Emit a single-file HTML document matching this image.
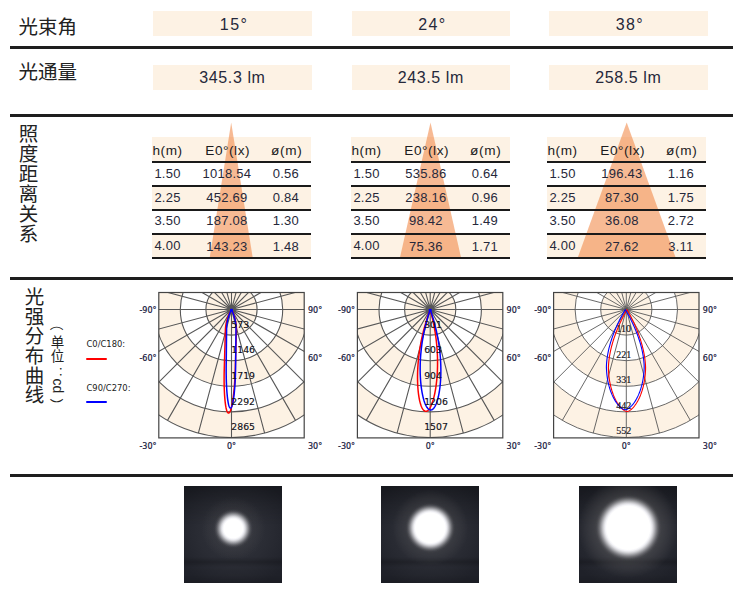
<!DOCTYPE html>
<html lang="zh-CN"><head><meta charset="utf-8"><title>光束角 光通量 照度距离关系 光强分布曲线</title>
<style>
html,body{margin:0;padding:0;background:#fff}
body{width:750px;height:606px;position:relative;overflow:hidden;font-family:"Liberation Sans","Noto Sans CJK SC",sans-serif;color:#26283a}
.ln{position:absolute;left:10px;width:722.5px;height:3px;background:#1e1e1e}
.ttl{position:absolute;left:18.5px;font-size:19.5px;line-height:22px;color:#222;white-space:nowrap;font-family:"Liberation Sans","Noto Sans CJK SC",sans-serif}
.box{position:absolute;width:158.5px;height:24.5px;background:#fdf2e4;text-align:center;font-size:16px;line-height:24.5px;letter-spacing:0.6px;color:#26283a}
.vt{position:absolute;writing-mode:vertical-rl;text-orientation:mixed;font-family:"Liberation Sans","Noto Sans CJK SC",sans-serif;color:#222;white-space:nowrap}
.unit{position:absolute;left:49px;top:0;width:17px;height:0;font-family:"Liberation Sans","Noto Sans CJK SC",sans-serif;font-size:13.5px;color:#222}
.unit span{position:absolute;left:0;width:17px;height:16px;line-height:16px;text-align:center;display:block}
.tbl{position:absolute;top:0;width:158.8px;height:262px}
.tbl .bg{position:absolute;left:0;width:100%;background:#fdf2e4}
.tbl .cone{position:absolute;left:0;top:0}
.tbl .hl{position:absolute;left:0;width:100%;height:2px;background:#1a1a1a}
.tbl .row{position:absolute;left:0;width:100%;height:16px;font-size:13px;line-height:16px;letter-spacing:0.25px;color:#26283a}
.tbl .row span{position:absolute;top:0;white-space:nowrap}
.tbl .row .c1{left:2.5px}
.tbl .row .c2{left:45px;width:60px;text-align:center}
.tbl .row .c3{left:112px;width:44px;text-align:center}
.tbl .hd{font-size:13.6px;letter-spacing:0.55px;color:#1c1c1e}
.tbl .hd .c2{left:45.8px}
.tbl .hd .c3{left:112.8px;letter-spacing:0.7px}
.tbl .hd .c1{letter-spacing:0.6px}
.tbl .hd .c1{left:0.5px}
.polar{position:absolute;overflow:visible}
.lg{position:absolute;left:86.5px;font-family:"DejaVu Sans","Liberation Sans",sans-serif;font-size:8.4px;line-height:10px;color:#1a1a1a;white-space:nowrap}
.lgl{position:absolute;left:86.2px;width:20.4px;height:2.2px;border-radius:1.1px}
.photo{position:absolute;top:486px;width:98px;height:97.3px}
</style></head><body>
<div class="ln" style="top:46px"></div>
<div class="ln" style="top:113.5px"></div>
<div class="ln" style="top:277px"></div>
<div class="ln" style="top:474px"></div>
<div class="ttl" style="top:15.5px">光束角</div>
<div class="ttl" style="top:61px">光通量</div>
<div class="box" style="left:153.2px;top:11.1px"><span style="position:relative;top:1.7px;letter-spacing:1.4px;left:1.6px">15°</span></div>
<div class="box" style="left:153.2px;top:65px"><span style="position:relative;top:1.3px">345.3 lm</span></div>
<div class="box" style="left:351.5px;top:11.1px"><span style="position:relative;top:1.7px;letter-spacing:1.4px;left:1.6px">24°</span></div>
<div class="box" style="left:351.5px;top:65px"><span style="position:relative;top:1.3px">243.5 lm</span></div>
<div class="box" style="left:549px;top:11.1px"><span style="position:relative;top:1.7px;letter-spacing:1.4px;left:1.6px">38°</span></div>
<div class="box" style="left:549px;top:65px"><span style="position:relative;top:1.3px">258.5 lm</span></div>
<div class="vt" style="left:17px;top:124px;font-size:19.5px;line-height:20px;letter-spacing:0.45px">照度距离关系</div>
<div class="vt" style="left:23px;top:287px;font-size:19.5px;line-height:20px;letter-spacing:0.1px">光强分布曲线</div>
<div class="unit"><span style="top:316.4px;left:-2px;transform:rotate(90deg)">（</span><span style="top:334.8px">单</span><span style="top:349.3px">位</span><span style="top:364.4px;left:3.2px;font-size:11px;font-family:'Liberation Sans','Noto Sans CJK JP',sans-serif">：</span><span style="top:377.5px;font-size:14px;transform:rotate(90deg);font-family:'Liberation Sans',sans-serif">cd</span><span style="top:397.2px;left:-2px;transform:rotate(90deg)">）</span></div>
<div class="tbl" style="left:151.9px">
<div class="bg" style="top:137.3px;height:25px"></div>
<div class="bg" style="top:186px;height:24px"></div>
<div class="bg" style="top:233.6px;height:24.8px"></div>
<svg class="cone" width="158.8" height="260" viewBox="0 0 158.8 260"><polygon points="79.2,122.5 57.6,258.3 100.8,258.3" fill="rgba(240,130,60,0.55)"/></svg>
<div class="hl" style="top:161.3px"></div>
<div class="hl" style="top:185.0px"></div>
<div class="hl" style="top:209.0px"></div>
<div class="hl" style="top:232.6px"></div>
<div class="hl" style="top:257.4px"></div>
<div class="row hd" style="top:143px"><span class="c1">h(m)</span><span class="c2">E0°(lx)</span><span class="c3">ø(m)</span></div>
<div class="row" style="top:166.2px"><span class="c1">1.50</span><span class="c2">1018.54</span><span class="c3">0.56</span></div>
<div class="row" style="top:190.3px"><span class="c1">2.25</span><span class="c2">452.69</span><span class="c3">0.84</span></div>
<div class="row" style="top:213.2px"><span class="c1">3.50</span><span class="c2">187.08</span><span class="c3">1.30</span></div>
<div class="row" style="top:238.6px"><span class="c1" style="top:-1px">4.00</span><span class="c2">143.23</span><span class="c3">1.48</span></div>
</div>
<div class="tbl" style="left:350.9px">
<div class="bg" style="top:137.3px;height:25px"></div>
<div class="bg" style="top:186px;height:24px"></div>
<div class="bg" style="top:233.6px;height:24.8px"></div>
<svg class="cone" width="158.8" height="260" viewBox="0 0 158.8 260"><polygon points="79.5,122.5 48.8,258.3 110.2,258.3" fill="rgba(240,130,60,0.55)"/></svg>
<div class="hl" style="top:161.3px"></div>
<div class="hl" style="top:185.0px"></div>
<div class="hl" style="top:209.0px"></div>
<div class="hl" style="top:232.6px"></div>
<div class="hl" style="top:257.4px"></div>
<div class="row hd" style="top:143px"><span class="c1">h(m)</span><span class="c2">E0°(lx)</span><span class="c3">ø(m)</span></div>
<div class="row" style="top:166.2px"><span class="c1">1.50</span><span class="c2">535.86</span><span class="c3">0.64</span></div>
<div class="row" style="top:190.3px"><span class="c1">2.25</span><span class="c2">238.16</span><span class="c3">0.96</span></div>
<div class="row" style="top:213.2px"><span class="c1">3.50</span><span class="c2">98.42</span><span class="c3">1.49</span></div>
<div class="row" style="top:238.6px"><span class="c1" style="top:-1px">4.00</span><span class="c2">75.36</span><span class="c3">1.71</span></div>
</div>
<div class="tbl" style="left:546.9px">
<div class="bg" style="top:137.3px;height:25px"></div>
<div class="bg" style="top:186px;height:24px"></div>
<div class="bg" style="top:233.6px;height:24.8px"></div>
<svg class="cone" width="158.8" height="260" viewBox="0 0 158.8 260"><polygon points="79.7,122.5 30.5,258.3 128.9,258.3" fill="rgba(240,130,60,0.55)"/></svg>
<div class="hl" style="top:161.3px"></div>
<div class="hl" style="top:185.0px"></div>
<div class="hl" style="top:209.0px"></div>
<div class="hl" style="top:232.6px"></div>
<div class="hl" style="top:257.4px"></div>
<div class="row hd" style="top:143px"><span class="c1">h(m)</span><span class="c2">E0°(lx)</span><span class="c3">ø(m)</span></div>
<div class="row" style="top:166.2px"><span class="c1">1.50</span><span class="c2">196.43</span><span class="c3">1.16</span></div>
<div class="row" style="top:190.3px"><span class="c1">2.25</span><span class="c2">87.30</span><span class="c3">1.75</span></div>
<div class="row" style="top:213.2px"><span class="c1">3.50</span><span class="c2">36.08</span><span class="c3">2.72</span></div>
<div class="row" style="top:238.6px"><span class="c1" style="top:-1px">4.00</span><span class="c2">27.62</span><span class="c3">3.11</span></div>
</div>
<div class="lg" style="top:339.3px">C0/C180:</div><div class="lgl" style="top:358px;background:#f00"></div>
<div class="lg" style="top:382.6px">C90/C270:</div><div class="lgl" style="top:401.3px;background:#00f"></div>
<svg class="polar" style="left:0;top:0" width="750" height="606" viewBox="0 0 750 606">
<defs><clipPath id="cp1"><rect x="158.8" y="292.5" width="145.4" height="145.4"/></clipPath></defs>
<g clip-path="url(#cp1)">
<rect x="158.8" y="292.5" width="145.4" height="145.4" fill="#fff"/>
<circle cx="231.5" cy="309.5" r="128.00" fill="#fdf2e4" stroke="#585858" stroke-width="1.1"/>
<circle cx="231.5" cy="309.5" r="102.40" fill="#fff" stroke="#585858" stroke-width="1.1"/>
<circle cx="231.5" cy="309.5" r="76.80" fill="#fdf2e4" stroke="#585858" stroke-width="1.1"/>
<circle cx="231.5" cy="309.5" r="51.20" fill="#fff" stroke="#585858" stroke-width="1.1"/>
<circle cx="231.5" cy="309.5" r="25.60" fill="#fdf2e4" stroke="#585858" stroke-width="1.1"/>
<path d="M231.5 309.5L231.50 437.50M231.5 309.5L264.63 433.14M231.5 309.5L295.50 420.35M231.5 309.5L322.01 400.01M231.5 309.5L342.35 373.50M231.5 309.5L355.14 342.63M231.5 309.5L359.50 309.50M231.5 309.5L355.14 276.37M231.5 309.5L342.35 245.50M231.5 309.5L322.01 218.99M231.5 309.5L295.50 198.65M231.5 309.5L264.63 185.86M231.5 309.5L231.50 181.50M231.5 309.5L198.37 185.86M231.5 309.5L167.50 198.65M231.5 309.5L140.99 218.99M231.5 309.5L120.65 245.50M231.5 309.5L107.86 276.37M231.5 309.5L103.50 309.50M231.5 309.5L107.86 342.63M231.5 309.5L120.65 373.50M231.5 309.5L140.99 400.01M231.5 309.5L167.50 420.35M231.5 309.5L198.37 433.14" stroke="#585858" stroke-width="1.1" fill="none"/>
<path d="M231.50 309.50L231.48 309.53L231.43 309.62L231.34 309.78L231.22 310.00L231.07 310.27L230.88 310.61L230.67 311.02L230.43 311.48L230.16 312.00L229.88 312.58L229.57 313.22L229.25 313.92L228.92 314.67L228.58 315.48L228.23 316.35L227.89 317.27L227.55 318.25L227.22 319.27L226.90 320.35L226.60 321.48L226.32 322.66L226.07 323.89L225.85 325.16L225.67 326.48L225.53 327.84L225.43 329.24L225.38 330.68L225.34 332.16L225.30 333.68L225.25 335.23L225.21 336.81L225.16 338.42L225.11 340.06L225.06 341.72L225.01 343.41L224.97 345.12L224.92 346.85L224.86 348.59L224.81 350.35L224.76 352.13L224.71 353.91L224.66 355.71L224.61 357.51L224.55 359.31L224.50 361.12L224.45 362.93L224.40 364.73L224.34 366.53L224.29 368.33L224.24 370.11L224.20 371.88L224.16 373.65L224.14 375.39L224.13 377.12L224.12 378.83L224.12 380.52L224.13 382.19L224.15 383.83L224.18 385.44L224.22 387.02L224.27 388.57L224.32 390.09L224.39 391.58L224.46 393.02L224.54 394.43L224.62 395.80L224.72 397.12L224.82 398.41L224.93 399.64L225.04 400.83L225.17 401.97L225.30 403.07L225.43 404.11L225.57 405.10L225.72 406.03L225.88 406.91L226.03 407.74L226.20 408.51L226.37 409.22L226.54 409.87L226.72 410.47L226.91 411.00L227.09 411.48L227.29 411.89L227.48 412.24L227.68 412.53L227.88 412.75L228.08 412.92L228.29 413.02L228.50 413.06L228.50 413.06L228.71 413.03L228.92 412.94L229.13 412.79L229.35 412.58L229.56 412.30L229.78 411.96L229.99 411.56L230.21 411.10L230.42 410.58L230.63 409.99L230.85 409.35L231.06 408.65L231.27 407.89L231.47 407.08L231.68 406.21L231.88 405.28L232.08 404.30L232.28 403.27L232.47 402.19L232.66 401.05L232.84 399.87L233.02 398.64L233.20 397.37L233.37 396.05L233.53 394.69L233.69 393.29L233.85 391.85L234.00 390.37L234.14 388.86L234.28 387.31L234.41 385.73L234.53 384.13L234.64 382.49L234.75 380.83L234.85 379.14L234.95 377.44L235.03 375.71L235.11 373.96L235.18 372.20L235.24 370.43L235.29 368.64L235.34 366.85L235.39 365.05L235.44 363.24L235.50 361.44L235.55 359.63L235.60 357.83L235.65 356.03L235.71 354.23L235.76 352.45L235.81 350.67L235.86 348.91L235.91 347.17L235.96 345.44L236.01 343.73L236.06 342.04L236.11 340.38L236.15 338.74L236.20 337.13L236.25 335.55L236.29 334.00L236.34 332.48L236.38 331.00L236.41 329.56L236.40 328.15L236.34 326.79L236.23 325.46L236.09 324.18L235.91 322.94L235.70 321.75L235.47 320.60L235.21 319.50L234.94 318.46L234.66 317.47L234.36 316.53L234.07 315.64L233.78 314.81L233.49 314.04L233.21 313.32L232.94 312.67L232.69 312.07L232.46 311.54L232.24 311.06L232.05 310.65L231.89 310.30L231.75 310.01L231.64 309.79L231.56 309.63L231.52 309.53L231.50 309.50Z" stroke="#ff0000" stroke-width="1.5" fill="none" stroke-linejoin="round"/>
<path d="M231.50 309.50L231.49 309.53L231.44 309.62L231.37 309.77L231.27 309.98L231.14 310.25L230.99 310.57L230.81 310.96L230.61 311.40L230.39 311.90L230.16 312.46L229.91 313.07L229.64 313.74L229.37 314.47L229.09 315.25L228.81 316.08L228.53 316.96L228.25 317.89L227.98 318.88L227.73 319.91L227.49 320.99L227.27 322.12L227.07 323.29L226.91 324.51L226.77 325.76L226.67 327.06L226.61 328.40L226.59 329.77L226.57 331.18L226.56 332.62L226.54 334.10L226.53 335.60L226.51 337.14L226.49 338.70L226.48 340.28L226.46 341.89L226.44 343.51L226.43 345.16L226.41 346.82L226.39 348.50L226.37 350.19L226.36 351.89L226.34 353.60L226.32 355.31L226.30 357.03L226.28 358.75L226.27 360.47L226.25 362.19L226.23 363.90L226.21 365.61L226.19 367.31L226.18 369.00L226.18 370.67L226.19 372.34L226.20 373.98L226.22 375.61L226.25 377.22L226.28 378.80L226.32 380.36L226.37 381.90L226.43 383.40L226.49 384.88L226.56 386.32L226.64 387.73L226.72 389.11L226.81 390.44L226.90 391.74L227.00 393.00L227.11 394.22L227.22 395.40L227.33 396.53L227.46 397.61L227.58 398.65L227.71 399.64L227.85 400.58L227.99 401.46L228.13 402.30L228.28 403.08L228.44 403.81L228.59 404.48L228.75 405.10L228.91 405.67L229.08 406.17L229.24 406.62L229.41 407.01L229.59 407.34L229.76 407.61L229.93 407.82L230.11 407.97L230.29 408.06L230.47 408.09L230.47 408.09L230.65 408.07L230.83 407.98L231.01 407.83L231.19 407.62L231.37 407.35L231.54 407.03L231.72 406.64L231.90 406.20L232.07 405.70L232.25 405.14L232.42 404.52L232.59 403.85L232.76 403.13L232.92 402.35L233.08 401.52L233.24 400.63L233.40 399.70L233.55 398.71L233.70 397.68L233.84 396.60L233.98 395.47L234.12 394.30L234.25 393.08L234.38 391.82L234.50 390.53L234.61 389.19L234.72 387.82L234.83 386.41L234.93 384.97L235.02 383.49L235.11 381.99L235.19 380.45L235.27 378.90L235.33 377.31L235.40 375.71L235.45 374.08L235.50 372.43L235.54 370.77L235.57 369.10L235.59 367.41L235.61 365.71L235.63 364.00L235.65 362.29L235.67 360.57L235.68 358.85L235.70 357.13L235.72 355.41L235.74 353.69L235.76 351.99L235.77 350.29L235.79 348.60L235.81 346.92L235.83 345.26L235.84 343.61L235.86 341.99L235.88 340.38L235.89 338.80L235.91 337.24L235.93 335.70L235.94 334.20L235.96 332.72L235.97 331.28L235.99 329.87L235.99 328.50L235.96 327.16L235.89 325.86L235.78 324.60L235.64 323.38L235.47 322.21L235.27 321.07L235.05 319.99L234.82 318.95L234.57 317.96L234.31 317.02L234.05 316.13L233.79 315.29L233.53 314.51L233.27 313.78L233.02 313.11L232.78 312.49L232.55 311.92L232.35 311.42L232.16 310.97L231.99 310.58L231.84 310.25L231.72 309.98L231.63 309.77L231.56 309.62L231.51 309.53L231.50 309.50Z" stroke="#0000ff" stroke-width="1.5" fill="none" stroke-linejoin="round"/>
<rect x="230.0" y="308.9" width="3" height="2.6" fill="#0000ff"/>
</g>
<rect x="158.8" y="292.5" width="145.4" height="145.4" fill="none" stroke="#444" stroke-width="1.2"/>
<text x="231.3" y="327.7" text-anchor="start" font-family="DejaVu Sans, Liberation Sans, sans-serif" font-size="9.3" fill="#101018" stroke="#101018" stroke-width="0.15">573</text>
<text x="231.3" y="353.3" text-anchor="start" font-family="DejaVu Sans, Liberation Sans, sans-serif" font-size="9.3" fill="#101018" stroke="#101018" stroke-width="0.15">1146</text>
<text x="231.3" y="378.9" text-anchor="start" font-family="DejaVu Sans, Liberation Sans, sans-serif" font-size="9.3" fill="#101018" stroke="#101018" stroke-width="0.15">1719</text>
<text x="231.3" y="404.5" text-anchor="start" font-family="DejaVu Sans, Liberation Sans, sans-serif" font-size="9.3" fill="#101018" stroke="#101018" stroke-width="0.15">2292</text>
<text x="231.3" y="430.1" text-anchor="start" font-family="DejaVu Sans, Liberation Sans, sans-serif" font-size="9.3" fill="#101018" stroke="#101018" stroke-width="0.15">2865</text>
<text x="156.5" y="312.5" text-anchor="end" font-family="DejaVu Sans, Liberation Sans, sans-serif" font-size="8" fill="#14143a" stroke="#14143a" stroke-width="0.2">-90°</text>
<text x="156.5" y="360.5" text-anchor="end" font-family="DejaVu Sans, Liberation Sans, sans-serif" font-size="8" fill="#14143a" stroke="#14143a" stroke-width="0.2">-60°</text>
<text x="156.5" y="448.7" text-anchor="end" font-family="DejaVu Sans, Liberation Sans, sans-serif" font-size="8" fill="#14143a" stroke="#14143a" stroke-width="0.2">-30°</text>
<text x="308.00000000000006" y="312.5" text-anchor="start" font-family="DejaVu Sans, Liberation Sans, sans-serif" font-size="8" fill="#14143a" stroke="#14143a" stroke-width="0.2">90°</text>
<text x="308.00000000000006" y="360.5" text-anchor="start" font-family="DejaVu Sans, Liberation Sans, sans-serif" font-size="8" fill="#14143a" stroke="#14143a" stroke-width="0.2">60°</text>
<text x="308.00000000000006" y="448.7" text-anchor="start" font-family="DejaVu Sans, Liberation Sans, sans-serif" font-size="8" fill="#14143a" stroke="#14143a" stroke-width="0.2">30°</text>
<text x="231.5" y="448.7" text-anchor="middle" font-family="DejaVu Sans, Liberation Sans, sans-serif" font-size="8" fill="#14143a" stroke="#14143a" stroke-width="0.2">0°</text>
</svg>
<svg class="polar" style="left:0;top:0" width="750" height="606" viewBox="0 0 750 606">
<defs><clipPath id="cp2"><rect x="357.4" y="292.5" width="145.4" height="145.4"/></clipPath></defs>
<g clip-path="url(#cp2)">
<rect x="357.4" y="292.5" width="145.4" height="145.4" fill="#fff"/>
<circle cx="430.2" cy="309.5" r="128.00" fill="#fdf2e4" stroke="#585858" stroke-width="1.1"/>
<circle cx="430.2" cy="309.5" r="102.40" fill="#fff" stroke="#585858" stroke-width="1.1"/>
<circle cx="430.2" cy="309.5" r="76.80" fill="#fdf2e4" stroke="#585858" stroke-width="1.1"/>
<circle cx="430.2" cy="309.5" r="51.20" fill="#fff" stroke="#585858" stroke-width="1.1"/>
<circle cx="430.2" cy="309.5" r="25.60" fill="#fdf2e4" stroke="#585858" stroke-width="1.1"/>
<path d="M430.2 309.5L430.20 437.50M430.2 309.5L463.33 433.14M430.2 309.5L494.20 420.35M430.2 309.5L520.71 400.01M430.2 309.5L541.05 373.50M430.2 309.5L553.84 342.63M430.2 309.5L558.20 309.50M430.2 309.5L553.84 276.37M430.2 309.5L541.05 245.50M430.2 309.5L520.71 218.99M430.2 309.5L494.20 198.65M430.2 309.5L463.33 185.86M430.2 309.5L430.20 181.50M430.2 309.5L397.07 185.86M430.2 309.5L366.20 198.65M430.2 309.5L339.69 218.99M430.2 309.5L319.35 245.50M430.2 309.5L306.56 276.37M430.2 309.5L302.20 309.50M430.2 309.5L306.56 342.63M430.2 309.5L319.35 373.50M430.2 309.5L339.69 400.01M430.2 309.5L366.20 420.35M430.2 309.5L397.07 433.14" stroke="#585858" stroke-width="1.1" fill="none"/>
<path d="M430.20 309.50L430.19 309.53L430.15 309.62L430.10 309.77L430.02 309.99L429.92 310.26L429.80 310.60L429.65 310.99L429.49 311.44L429.30 311.96L429.10 312.53L428.88 313.16L428.64 313.84L428.39 314.58L428.11 315.38L427.83 316.23L427.53 317.13L427.22 318.09L426.89 319.10L426.56 320.15L426.22 321.26L425.87 322.41L425.51 323.61L425.15 324.85L424.79 326.14L424.42 327.46L424.05 328.83L423.68 330.24L423.32 331.68L422.96 333.16L422.60 334.67L422.24 336.21L421.90 337.78L421.56 339.38L421.23 341.00L420.90 342.65L420.59 344.32L420.30 346.01L420.01 347.72L419.74 349.44L419.48 351.17L419.23 352.92L419.00 354.68L418.79 356.44L418.59 358.21L418.41 359.98L418.25 361.76L418.10 363.53L417.97 365.30L417.85 367.06L417.76 368.81L417.68 370.55L417.61 372.29L417.57 374.00L417.54 375.71L417.53 377.39L417.54 379.05L417.57 380.69L417.61 382.31L417.67 383.89L417.74 385.45L417.84 386.98L417.94 388.48L418.06 389.94L418.20 391.37L418.35 392.76L418.52 394.11L418.70 395.42L418.89 396.69L419.10 397.91L419.32 399.09L419.55 400.22L419.80 401.30L420.06 402.34L420.32 403.32L420.60 404.25L420.89 405.12L421.19 405.94L421.50 406.71L421.82 407.42L422.14 408.07L422.47 408.66L422.82 409.20L423.16 409.68L423.52 410.09L423.88 410.45L424.25 410.74L424.62 410.97L424.99 411.15L425.37 411.26L425.76 411.30L425.76 411.30L426.14 411.29L426.53 411.21L426.92 411.07L427.31 410.87L427.70 410.61L428.09 410.29L428.48 409.91L428.87 409.46L429.25 408.96L429.64 408.40L430.02 407.78L430.40 407.10L430.77 406.36L431.14 405.57L431.50 404.72L431.86 403.82L432.22 402.87L432.56 401.86L432.90 400.80L433.23 399.70L433.55 398.54L433.86 397.34L434.17 396.10L434.46 394.81L434.74 393.48L435.02 392.11L435.28 390.70L435.53 389.25L435.76 387.77L435.99 386.25L436.20 384.70L436.40 383.13L436.58 381.52L436.75 379.89L436.90 378.23L437.04 376.56L437.16 374.86L437.27 373.14L437.36 371.41L437.43 369.67L437.48 367.91L437.52 366.15L437.55 364.38L437.55 362.60L437.54 360.82L437.52 359.04L437.48 357.26L437.42 355.48L437.34 353.71L437.25 351.95L437.14 350.20L437.02 348.46L436.88 346.73L436.73 345.02L436.57 343.33L436.39 341.66L436.21 340.02L436.01 338.40L435.80 336.80L435.58 335.23L435.36 333.70L435.12 332.20L434.88 330.73L434.64 329.29L434.39 327.90L434.14 326.55L433.89 325.23L433.64 323.96L433.39 322.74L433.14 321.56L432.90 320.43L432.66 319.35L432.42 318.32L432.20 317.34L431.98 316.41L431.77 315.54L431.56 314.72L431.37 313.96L431.20 313.26L431.03 312.61L430.88 312.03L430.74 311.50L430.62 311.03L430.51 310.63L430.41 310.28L430.34 310.00L430.28 309.78L430.23 309.63L430.21 309.53L430.20 309.50Z" stroke="#ff0000" stroke-width="1.5" fill="none" stroke-linejoin="round"/>
<path d="M430.20 309.50L430.19 309.53L430.16 309.62L430.11 309.78L430.04 309.99L429.94 310.26L429.83 310.60L429.70 311.00L429.55 311.45L429.39 311.96L429.20 312.54L429.00 313.17L428.79 313.85L428.55 314.59L428.31 315.39L428.05 316.24L427.78 317.15L427.51 318.11L427.22 319.11L426.92 320.17L426.62 321.28L426.31 322.43L426.00 323.63L425.68 324.87L425.37 326.15L425.05 327.48L424.73 328.84L424.42 330.24L424.11 331.68L423.80 333.16L423.50 334.66L423.21 336.20L422.93 337.76L422.65 339.35L422.39 340.97L422.13 342.61L421.89 344.27L421.67 345.94L421.45 347.64L421.25 349.35L421.07 351.07L420.90 352.81L420.75 354.55L420.62 356.30L420.50 358.05L420.40 359.80L420.32 361.56L420.25 363.31L420.21 365.06L420.18 366.80L420.16 368.53L420.17 370.25L420.19 371.96L420.23 373.65L420.29 375.33L420.37 376.99L420.46 378.63L420.57 380.24L420.70 381.83L420.84 383.39L421.00 384.92L421.17 386.43L421.36 387.90L421.57 389.33L421.78 390.73L422.01 392.09L422.26 393.42L422.51 394.70L422.78 395.94L423.06 397.13L423.35 398.28L423.65 399.38L423.96 400.44L424.29 401.44L424.62 402.39L424.96 403.30L425.31 404.15L425.66 404.94L426.02 405.68L426.39 406.36L426.77 406.99L427.15 407.56L427.53 408.07L427.92 408.52L428.32 408.91L428.71 409.25L429.11 409.52L429.52 409.73L429.92 409.88L430.32 409.97L430.73 410.00L430.73 410.00L431.13 409.97L431.53 409.87L431.93 409.72L432.33 409.50L432.73 409.22L433.12 408.89L433.51 408.49L433.90 408.04L434.28 407.52L434.65 406.95L435.02 406.32L435.38 405.63L435.74 404.89L436.09 404.09L436.42 403.24L436.75 402.33L437.08 401.37L437.39 400.37L437.69 399.31L437.98 398.20L438.26 397.05L438.52 395.85L438.78 394.61L439.02 393.33L439.25 392.00L439.47 390.64L439.67 389.24L439.86 387.80L440.03 386.33L440.19 384.82L440.33 383.29L440.46 381.73L440.57 380.14L440.66 378.52L440.74 376.88L440.80 375.22L440.84 373.55L440.86 371.85L440.87 370.14L440.85 368.42L440.82 366.69L440.77 364.95L440.71 363.20L440.63 361.45L440.53 359.70L440.41 357.94L440.27 356.19L440.12 354.45L439.95 352.71L439.76 350.97L439.56 349.25L439.35 347.55L439.11 345.85L438.87 344.18L438.61 342.52L438.34 340.88L438.06 339.27L437.77 337.68L437.47 336.12L437.16 334.59L436.84 333.09L436.52 331.62L436.20 330.18L435.87 328.78L435.54 327.42L435.21 326.10L434.88 324.82L434.55 323.58L434.22 322.39L433.90 321.24L433.59 320.13L433.28 319.08L432.98 318.08L432.70 317.12L432.42 316.22L432.15 315.37L431.90 314.58L431.66 313.84L431.44 313.15L431.23 312.53L431.04 311.96L430.87 311.44L430.71 310.99L430.58 310.60L430.46 310.26L430.37 309.99L430.30 309.77L430.24 309.62L430.21 309.53L430.20 309.50Z" stroke="#0000ff" stroke-width="1.5" fill="none" stroke-linejoin="round"/>
<rect x="428.7" y="308.9" width="3" height="2.6" fill="#0000ff"/>
</g>
<rect x="357.4" y="292.5" width="145.4" height="145.4" fill="none" stroke="#444" stroke-width="1.2"/>
<text x="424.2" y="327.7" text-anchor="start" font-family="DejaVu Sans, Liberation Sans, sans-serif" font-size="9.3" fill="#101018" stroke="#101018" stroke-width="0.15">301</text>
<text x="424.2" y="353.3" text-anchor="start" font-family="DejaVu Sans, Liberation Sans, sans-serif" font-size="9.3" fill="#101018" stroke="#101018" stroke-width="0.15">603</text>
<text x="424.2" y="378.9" text-anchor="start" font-family="DejaVu Sans, Liberation Sans, sans-serif" font-size="9.3" fill="#101018" stroke="#101018" stroke-width="0.15">904</text>
<text x="424.2" y="404.5" text-anchor="start" font-family="DejaVu Sans, Liberation Sans, sans-serif" font-size="9.3" fill="#101018" stroke="#101018" stroke-width="0.15">1206</text>
<text x="424.2" y="430.1" text-anchor="start" font-family="DejaVu Sans, Liberation Sans, sans-serif" font-size="9.3" fill="#101018" stroke="#101018" stroke-width="0.15">1507</text>
<text x="355.09999999999997" y="312.5" text-anchor="end" font-family="DejaVu Sans, Liberation Sans, sans-serif" font-size="8" fill="#14143a" stroke="#14143a" stroke-width="0.2">-90°</text>
<text x="355.09999999999997" y="360.5" text-anchor="end" font-family="DejaVu Sans, Liberation Sans, sans-serif" font-size="8" fill="#14143a" stroke="#14143a" stroke-width="0.2">-60°</text>
<text x="355.09999999999997" y="448.7" text-anchor="end" font-family="DejaVu Sans, Liberation Sans, sans-serif" font-size="8" fill="#14143a" stroke="#14143a" stroke-width="0.2">-30°</text>
<text x="506.59999999999997" y="312.5" text-anchor="start" font-family="DejaVu Sans, Liberation Sans, sans-serif" font-size="8" fill="#14143a" stroke="#14143a" stroke-width="0.2">90°</text>
<text x="506.59999999999997" y="360.5" text-anchor="start" font-family="DejaVu Sans, Liberation Sans, sans-serif" font-size="8" fill="#14143a" stroke="#14143a" stroke-width="0.2">60°</text>
<text x="506.59999999999997" y="448.7" text-anchor="start" font-family="DejaVu Sans, Liberation Sans, sans-serif" font-size="8" fill="#14143a" stroke="#14143a" stroke-width="0.2">30°</text>
<text x="430.2" y="448.7" text-anchor="middle" font-family="DejaVu Sans, Liberation Sans, sans-serif" font-size="8" fill="#14143a" stroke="#14143a" stroke-width="0.2">0°</text>
</svg>
<svg class="polar" style="left:0;top:0" width="750" height="606" viewBox="0 0 750 606">
<defs><clipPath id="cp3"><rect x="553.6" y="292.5" width="145.4" height="145.4"/></clipPath></defs>
<g clip-path="url(#cp3)">
<rect x="553.6" y="292.5" width="145.4" height="145.4" fill="#fff"/>
<circle cx="626.3" cy="309.5" r="128.00" fill="#fdf2e4" stroke="#585858" stroke-width="0.9"/>
<circle cx="626.3" cy="309.5" r="102.40" fill="#fff" stroke="#585858" stroke-width="0.9"/>
<circle cx="626.3" cy="309.5" r="76.80" fill="#fdf2e4" stroke="#585858" stroke-width="0.9"/>
<circle cx="626.3" cy="309.5" r="51.20" fill="#fff" stroke="#585858" stroke-width="0.9"/>
<circle cx="626.3" cy="309.5" r="25.60" fill="#fdf2e4" stroke="#585858" stroke-width="0.9"/>
<path d="M626.3 309.5L626.30 437.50M626.3 309.5L659.43 433.14M626.3 309.5L690.30 420.35M626.3 309.5L716.81 400.01M626.3 309.5L737.15 373.50M626.3 309.5L749.94 342.63M626.3 309.5L754.30 309.50M626.3 309.5L749.94 276.37M626.3 309.5L737.15 245.50M626.3 309.5L716.81 218.99M626.3 309.5L690.30 198.65M626.3 309.5L659.43 185.86M626.3 309.5L626.30 181.50M626.3 309.5L593.17 185.86M626.3 309.5L562.30 198.65M626.3 309.5L535.79 218.99M626.3 309.5L515.45 245.50M626.3 309.5L502.66 276.37M626.3 309.5L498.30 309.50M626.3 309.5L502.66 342.63M626.3 309.5L515.45 373.50M626.3 309.5L535.79 400.01M626.3 309.5L562.30 420.35M626.3 309.5L593.17 433.14" stroke="#585858" stroke-width="0.9" fill="none"/>
<path d="M627.00 309.50L626.98 309.53L626.93 309.62L626.84 309.78L626.72 310.00L626.56 310.27L626.37 310.61L626.15 311.01L625.90 311.48L625.61 312.00L625.30 312.58L624.95 313.21L624.58 313.91L624.18 314.66L623.76 315.47L623.31 316.33L622.85 317.25L622.36 318.22L621.86 319.24L621.33 320.31L620.80 321.43L620.25 322.60L619.70 323.81L619.13 325.07L618.56 326.37L617.99 327.72L617.41 329.10L616.84 330.52L616.27 331.98L615.70 333.47L615.14 335.00L614.59 336.56L614.05 338.14L613.52 339.76L613.01 341.40L612.52 343.06L612.04 344.74L611.59 346.44L611.16 348.16L610.75 349.90L610.37 351.64L610.02 353.40L609.70 355.17L609.41 356.94L609.15 358.72L608.93 360.50L608.74 362.28L608.59 364.06L608.48 365.83L608.41 367.60L608.44 369.36L608.52 371.10L608.62 372.84L608.76 374.56L608.94 376.26L609.14 377.94L609.38 379.60L609.65 381.24L609.95 382.86L610.28 384.44L610.63 386.00L611.02 387.53L611.43 389.02L611.86 390.48L612.32 391.90L612.80 393.28L613.30 394.63L613.82 395.93L614.36 397.19L614.92 398.40L615.49 399.57L616.08 400.69L616.68 401.76L617.28 402.78L617.90 403.75L618.53 404.67L619.16 405.53L619.79 406.34L620.43 407.09L621.06 407.79L621.69 408.42L622.32 409.00L622.93 409.52L623.54 409.99L624.13 410.39L624.70 410.73L625.26 411.00L625.78 411.22L626.26 411.38L626.69 411.47L627.00 411.50L627.00 411.50L627.31 411.47L627.74 411.38L628.22 411.22L628.74 411.00L629.30 410.73L629.87 410.39L630.46 409.99L631.07 409.52L631.68 409.00L632.31 408.42L632.94 407.79L633.57 407.09L634.21 406.34L634.84 405.53L635.47 404.67L636.10 403.75L636.72 402.78L637.32 401.76L637.92 400.69L638.51 399.57L639.08 398.40L639.64 397.19L640.18 395.93L640.70 394.63L641.20 393.28L641.68 391.90L642.14 390.48L642.57 389.02L642.98 387.53L643.37 386.00L643.72 384.44L644.05 382.86L644.35 381.24L644.62 379.60L644.86 377.94L645.06 376.26L645.24 374.56L645.38 372.84L645.48 371.10L645.56 369.36L645.59 367.60L645.52 365.83L645.41 364.06L645.26 362.28L645.07 360.50L644.85 358.72L644.59 356.94L644.30 355.17L643.98 353.40L643.63 351.64L643.25 349.90L642.84 348.16L642.41 346.44L641.96 344.74L641.48 343.06L640.99 341.40L640.48 339.76L639.95 338.14L639.41 336.56L638.86 335.00L638.30 333.47L637.73 331.98L637.16 330.52L636.59 329.10L636.01 327.72L635.44 326.37L634.87 325.07L634.30 323.81L633.75 322.60L633.20 321.43L632.67 320.31L632.14 319.24L631.64 318.22L631.15 317.25L630.69 316.33L630.24 315.47L629.82 314.66L629.42 313.91L629.05 313.21L628.70 312.58L628.39 312.00L628.10 311.48L627.85 311.01L627.63 310.61L627.44 310.27L627.28 310.00L627.16 309.78L627.07 309.62L627.02 309.53L627.00 309.50Z" stroke="#ff0000" stroke-width="1.1" fill="none" stroke-linejoin="round"/>
<path d="M625.30 309.50L625.28 309.53L625.23 309.62L625.14 309.77L625.02 309.99L624.86 310.26L624.66 310.59L624.44 310.99L624.18 311.44L623.89 311.95L623.57 312.52L623.22 313.15L622.84 313.83L622.44 314.57L622.01 315.36L621.55 316.21L621.08 317.11L620.58 318.07L620.07 319.07L619.54 320.12L619.00 321.22L618.44 322.37L617.88 323.56L617.31 324.80L616.73 326.08L616.14 327.40L615.56 328.76L614.98 330.15L614.39 331.58L613.82 333.05L613.25 334.55L612.69 336.08L612.14 337.64L611.61 339.22L611.09 340.83L610.59 342.46L610.10 344.12L609.64 345.79L609.20 347.48L608.79 349.18L608.41 350.90L608.05 352.63L607.72 354.36L607.42 356.11L607.16 357.85L606.93 359.60L606.74 361.35L606.59 363.09L606.48 364.84L606.41 366.57L606.44 368.30L606.52 370.02L606.63 371.72L606.77 373.41L606.95 375.08L607.16 376.74L607.40 378.37L607.67 379.98L607.97 381.56L608.31 383.12L608.67 384.65L609.06 386.15L609.48 387.62L609.92 389.05L610.38 390.44L610.87 391.80L611.38 393.12L611.91 394.40L612.46 395.64L613.02 396.83L613.61 397.98L614.20 399.08L614.81 400.13L615.43 401.13L616.06 402.09L616.69 402.99L617.33 403.84L617.98 404.63L618.62 405.37L619.26 406.05L619.91 406.68L620.54 407.25L621.17 407.76L621.78 408.21L622.38 408.61L622.97 408.94L623.53 409.21L624.06 409.43L624.55 409.58L624.98 409.67L625.30 409.70L625.30 409.70L625.62 409.67L626.05 409.58L626.54 409.43L627.07 409.21L627.63 408.94L628.22 408.61L628.82 408.21L629.43 407.76L630.06 407.25L630.69 406.68L631.34 406.05L631.98 405.37L632.62 404.63L633.27 403.84L633.91 402.99L634.54 402.09L635.17 401.13L635.79 400.13L636.40 399.08L636.99 397.98L637.58 396.83L638.14 395.64L638.69 394.40L639.22 393.12L639.73 391.80L640.22 390.44L640.68 389.05L641.12 387.62L641.54 386.15L641.93 384.65L642.29 383.12L642.63 381.56L642.93 379.98L643.20 378.37L643.44 376.74L643.65 375.08L643.83 373.41L643.97 371.72L644.08 370.02L644.16 368.30L644.19 366.57L644.12 364.84L644.01 363.09L643.86 361.35L643.67 359.60L643.44 357.85L643.18 356.11L642.88 354.36L642.55 352.63L642.19 350.90L641.81 349.18L641.40 347.48L640.96 345.79L640.50 344.12L640.01 342.46L639.51 340.83L638.99 339.22L638.46 337.64L637.91 336.08L637.35 334.55L636.78 333.05L636.21 331.58L635.62 330.15L635.04 328.76L634.46 327.40L633.87 326.08L633.29 324.80L632.72 323.56L632.16 322.37L631.60 321.22L631.06 320.12L630.53 319.07L630.02 318.07L629.52 317.11L629.05 316.21L628.59 315.36L628.16 314.57L627.76 313.83L627.38 313.15L627.03 312.52L626.71 311.95L626.42 311.44L626.16 310.99L625.94 310.59L625.74 310.26L625.58 309.99L625.46 309.77L625.37 309.62L625.32 309.53L625.30 309.50Z" stroke="#0000ff" stroke-width="1.1" fill="none" stroke-linejoin="round"/>
</g>
<rect x="553.6" y="292.5" width="145.4" height="145.4" fill="none" stroke="#444" stroke-width="1.2"/>
<text x="623.7" y="331.9" text-anchor="middle" font-family="Liberation Serif, serif" font-size="10" fill="#101018" stroke="#101018" stroke-width="0.15">110</text>
<text x="623.7" y="357.5" text-anchor="middle" font-family="Liberation Serif, serif" font-size="10" fill="#101018" stroke="#101018" stroke-width="0.15">221</text>
<text x="623.7" y="383.1" text-anchor="middle" font-family="Liberation Serif, serif" font-size="10" fill="#101018" stroke="#101018" stroke-width="0.15">331</text>
<text x="623.7" y="408.7" text-anchor="middle" font-family="Liberation Serif, serif" font-size="10" fill="#101018" stroke="#101018" stroke-width="0.15">442</text>
<text x="623.7" y="434.3" text-anchor="middle" font-family="Liberation Serif, serif" font-size="10" fill="#101018" stroke="#101018" stroke-width="0.15">552</text>
<text x="551.3000000000001" y="312.5" text-anchor="end" font-family="DejaVu Sans, Liberation Sans, sans-serif" font-size="8" fill="#14143a" stroke="#14143a" stroke-width="0.2">-90°</text>
<text x="551.3000000000001" y="360.5" text-anchor="end" font-family="DejaVu Sans, Liberation Sans, sans-serif" font-size="8" fill="#14143a" stroke="#14143a" stroke-width="0.2">-60°</text>
<text x="551.3000000000001" y="448.7" text-anchor="end" font-family="DejaVu Sans, Liberation Sans, sans-serif" font-size="8" fill="#14143a" stroke="#14143a" stroke-width="0.2">-30°</text>
<text x="702.8" y="312.5" text-anchor="start" font-family="DejaVu Sans, Liberation Sans, sans-serif" font-size="8" fill="#14143a" stroke="#14143a" stroke-width="0.2">90°</text>
<text x="702.8" y="360.5" text-anchor="start" font-family="DejaVu Sans, Liberation Sans, sans-serif" font-size="8" fill="#14143a" stroke="#14143a" stroke-width="0.2">60°</text>
<text x="702.8" y="448.7" text-anchor="start" font-family="DejaVu Sans, Liberation Sans, sans-serif" font-size="8" fill="#14143a" stroke="#14143a" stroke-width="0.2">30°</text>
<text x="626.3" y="448.7" text-anchor="middle" font-family="DejaVu Sans, Liberation Sans, sans-serif" font-size="8" fill="#14143a" stroke="#14143a" stroke-width="0.2">0°</text>
</svg>
<div class="photo" style="left:184px;background:radial-gradient(circle at 49.3px 42.6px, rgba(255,255,255,1) 0, rgba(255,255,255,1) 9.3px, rgba(251,251,255,0.956) 10.6px, rgba(248,248,252,0.834) 12.0px, rgba(245,245,249,0.654) 13.3px, rgba(242,242,246,0.451) 14.7px, rgba(239,239,243,0.259) 16.0px, rgba(236,236,240,0.110) 17.3px, rgba(233,233,237,0.023) 18.7px, rgba(230,230,234,0.000) 20.0px),radial-gradient(circle at 49.3px 42.6px, rgba(120,118,116,0.14) 0, rgba(120,118,116,0.14) 16.0px, rgba(110,108,108,0.070) 26.0px, rgba(100,100,104,0) 32.0px),linear-gradient(to bottom, rgba(0,0,0,0.28) 0, rgba(0,0,0,0.12) 18px, rgba(0,0,0,0) 40px, rgba(0,0,0,0) 71px, rgba(0,0,0,0.2) 76px, rgba(0,0,0,0.0) 81px, rgba(0,0,0,0.04) 90px, rgba(0,0,0,0.16) 97px),radial-gradient(ellipse 62px 58px at 49.3px 46.6px, #32343c 0, #2a2c34 55%, #20222a 100%)"></div>

<div class="photo" style="left:381px;background:radial-gradient(circle at 49.3px 41.8px, rgba(255,255,255,1) 0, rgba(255,255,255,1) 14.8px, rgba(251,251,255,0.956) 16.1px, rgba(248,248,252,0.834) 17.4px, rgba(245,245,249,0.654) 18.7px, rgba(242,242,246,0.451) 20.0px, rgba(239,239,243,0.259) 21.3px, rgba(236,236,240,0.110) 22.6px, rgba(233,233,237,0.023) 23.9px, rgba(230,230,234,0.000) 25.2px),radial-gradient(circle at 49.3px 41.8px, rgba(120,118,116,0.2) 0, rgba(120,118,116,0.2) 21.2px, rgba(110,108,108,0.100) 31.6px, rgba(100,100,104,0) 38.0px),linear-gradient(to bottom, rgba(0,0,0,0.28) 0, rgba(0,0,0,0.12) 18px, rgba(0,0,0,0) 40px, rgba(0,0,0,0) 71px, rgba(0,0,0,0.2) 76px, rgba(0,0,0,0.0) 81px, rgba(0,0,0,0.04) 90px, rgba(0,0,0,0.16) 97px),radial-gradient(ellipse 62px 58px at 49.3px 45.8px, #32343c 0, #2a2c34 55%, #20222a 100%)"></div>

<div class="photo" style="left:579px;background:radial-gradient(circle at 49.3px 41.8px, rgba(255,255,255,1) 0, rgba(255,255,255,1) 21.5px, rgba(251,251,255,0.956) 23.0px, rgba(248,248,252,0.834) 24.5px, rgba(245,245,249,0.654) 26.0px, rgba(242,242,246,0.451) 27.5px, rgba(239,239,243,0.259) 29.0px, rgba(236,236,240,0.110) 30.5px, rgba(233,233,237,0.023) 32.0px, rgba(230,230,234,0.000) 33.5px),radial-gradient(circle at 49.3px 41.8px, rgba(120,118,116,0.3) 0, rgba(120,118,116,0.3) 29.5px, rgba(110,108,108,0.150) 41.8px, rgba(100,100,104,0) 50.0px),linear-gradient(to bottom, rgba(0,0,0,0.28) 0, rgba(0,0,0,0.12) 18px, rgba(0,0,0,0) 40px, rgba(0,0,0,0) 71px, rgba(0,0,0,0.2) 76px, rgba(0,0,0,0.0) 81px, rgba(0,0,0,0.04) 90px, rgba(0,0,0,0.16) 97px),radial-gradient(ellipse 62px 58px at 49.3px 45.8px, #32343c 0, #2a2c34 55%, #20222a 100%)"></div>

</body></html>
